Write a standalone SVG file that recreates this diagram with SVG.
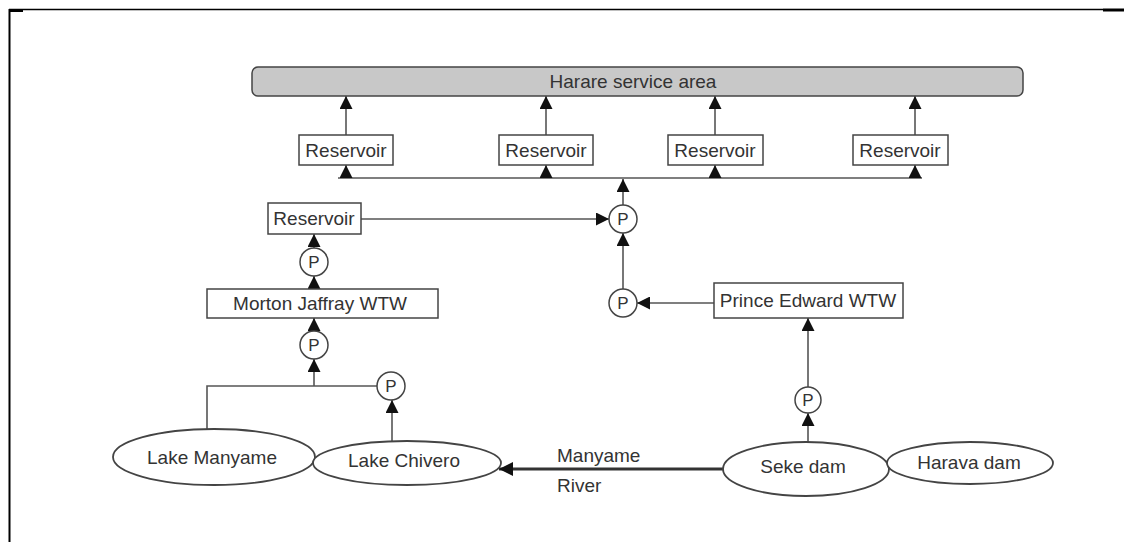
<svg xmlns="http://www.w3.org/2000/svg" width="1124" height="542" viewBox="0 0 1124 542">
<style>
text{font-family:"Liberation Sans",Arial,sans-serif;fill:#333;text-anchor:middle}
.lbl{font-size:19px}
.p{font-size:17px}
.box{fill:#fff;stroke:#444;stroke-width:1.5}
.ell{fill:#fff;stroke:#444;stroke-width:1.8}
.pc{fill:#fff;stroke:#444;stroke-width:1.5}
.ln{fill:none;stroke:#555;stroke-width:1.6}
.arr{marker-end:url(#ah)}
</style>
<defs>
<marker id="ah" viewBox="0 0 13 13" refX="13" refY="6.5" markerWidth="13" markerHeight="13" markerUnits="userSpaceOnUse" orient="auto">
<path d="M0,0 L13,6.5 L0,13 z" fill="#111"/>
</marker>
<marker id="ahb" viewBox="0 0 14 14" refX="14" refY="7" markerWidth="14" markerHeight="14" markerUnits="userSpaceOnUse" orient="auto">
<path d="M0,0 L14,7 L0,14 z" fill="#111"/>
</marker>
</defs>
<g id="frame">
<line x1="9.5" y1="9" x2="9.5" y2="542" stroke="#000" stroke-width="2"/>
<line x1="9" y1="9.5" x2="1103" y2="9.5" stroke="#000" stroke-width="1.5"/>
<line x1="1103" y1="10" x2="1124" y2="10" stroke="#000" stroke-width="3"/>
<line x1="9" y1="10.5" x2="23" y2="10.5" stroke="#000" stroke-width="3"/>
</g>
<g id="connectors">
<line class="ln arr" x1="346" y1="135" x2="346" y2="96"/>
<line class="ln arr" x1="546" y1="135" x2="546" y2="96"/>
<line class="ln arr" x1="715" y1="135" x2="715" y2="96"/>
<line class="ln arr" x1="915" y1="135" x2="915" y2="96"/>
<line class="ln" x1="338" y1="178" x2="922" y2="178"/>
<line class="ln arr" x1="346" y1="178" x2="346" y2="165"/>
<line class="ln arr" x1="546" y1="178" x2="546" y2="165"/>
<line class="ln arr" x1="715" y1="178" x2="715" y2="165"/>
<line class="ln arr" x1="915" y1="178" x2="915" y2="165"/>
<line class="ln arr" x1="623" y1="205" x2="623" y2="179"/>
<line class="ln arr" x1="361" y1="219" x2="609" y2="219"/>
<line class="ln arr" x1="623" y1="290" x2="623" y2="233"/>
<line class="ln arr" x1="714" y1="303" x2="637" y2="303"/>
<line class="ln arr" x1="314" y1="249" x2="314" y2="234"/>
<line class="ln arr" x1="314" y1="289" x2="314" y2="276"/>
<line class="ln arr" x1="314" y1="332" x2="314" y2="318"/>
<line class="ln arr" x1="314" y1="386" x2="314" y2="359"/>
<polyline class="ln" points="207,429 207,386 377,386"/>
<line class="ln arr" x1="392" y1="442" x2="392" y2="400"/>
<line class="ln arr" x1="808" y1="442" x2="808" y2="413"/>
<line class="ln arr" x1="808" y1="387" x2="808" y2="318"/>
<line fill="none" stroke="#333" stroke-width="3" x1="723" y1="469" x2="499" y2="469" marker-end="url(#ahb)"/>
</g>
<g id="harare">
<rect x="252" y="67" width="771" height="29" rx="6" fill="#c8c8c8" stroke="#444" stroke-width="1.5"/>
<text class="lbl" x="633" y="88">Harare service area</text>
</g>
<g id="res1"><rect class="box" x="299" y="135" width="94" height="30"/><text class="lbl" x="346" y="157">Reservoir</text></g>
<g id="res2"><rect class="box" x="499" y="135" width="94" height="30"/><text class="lbl" x="546" y="157">Reservoir</text></g>
<g id="res3"><rect class="box" x="668" y="135" width="95" height="30"/><text class="lbl" x="715" y="157">Reservoir</text></g>
<g id="res4"><rect class="box" x="853" y="135" width="95" height="30"/><text class="lbl" x="900" y="157">Reservoir</text></g>
<g id="res5"><rect class="box" x="268" y="203" width="93" height="31"/><text class="lbl" x="314" y="225">Reservoir</text></g>
<g id="p1"><circle class="pc" cx="623" cy="219" r="14"/><text class="p" x="623" y="225">P</text></g>
<g id="p2"><circle class="pc" cx="623" cy="303" r="14"/><text class="p" x="623" y="309">P</text></g>
<g id="p3"><circle class="pc" cx="314" cy="262" r="14"/><text class="p" x="314" y="268">P</text></g>
<g id="p4"><circle class="pc" cx="314" cy="345" r="14"/><text class="p" x="314" y="351">P</text></g>
<g id="p5"><circle class="pc" cx="391" cy="386" r="14"/><text class="p" x="391" y="392">P</text></g>
<g id="p6"><circle class="pc" cx="808" cy="400" r="13"/><text class="p" x="808" y="406">P</text></g>
<g id="morton"><rect class="box" x="207" y="289" width="231" height="29"/><text class="lbl" x="320" y="310">Morton Jaffray WTW</text></g>
<g id="prince"><rect class="box" x="714" y="283" width="189" height="35"/><text class="lbl" x="808" y="307">Prince Edward WTW</text></g>
<g id="manyame"><ellipse class="ell" cx="214" cy="457" rx="101" ry="28"/><text class="lbl" x="212" y="464">Lake Manyame</text></g>
<g id="chivero"><ellipse class="ell" cx="407" cy="463" rx="94" ry="22"/><text class="lbl" x="404" y="467">Lake Chivero</text></g>
<g id="seke"><ellipse class="ell" cx="806" cy="469" rx="83" ry="27"/><text class="lbl" x="803" y="473">Seke dam</text></g>
<g id="harava"><ellipse class="ell" cx="970" cy="463" rx="83" ry="21"/><text class="lbl" x="969" y="469">Harava dam</text></g>
<g id="river">
<text class="lbl" x="557" y="462" style="text-anchor:start">Manyame</text>
<text class="lbl" x="557" y="492" style="text-anchor:start">River</text>
</g>
</svg>
